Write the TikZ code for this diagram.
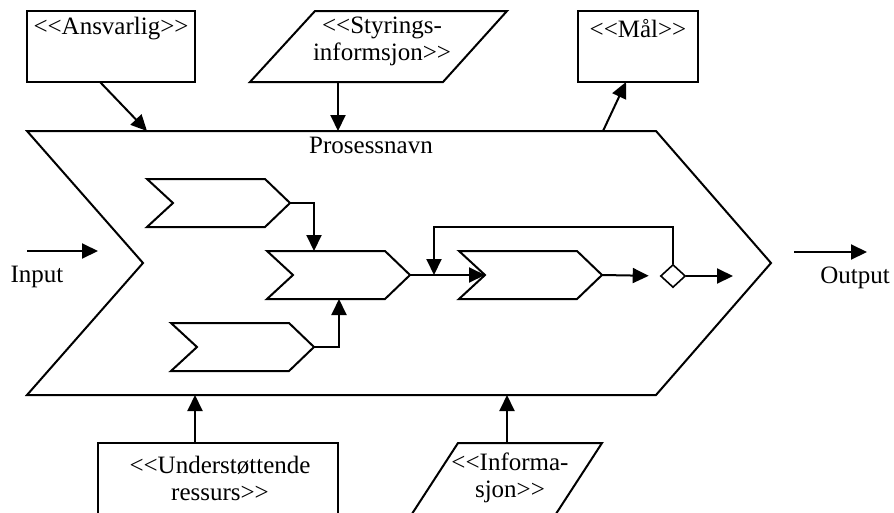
\documentclass[tikz,border=0pt]{standalone}
\usepackage{fontspec}
\setmainfont{Liberation Serif}[Ligatures=TeXOff]
\usetikzlibrary{arrows.meta,shapes.geometric}
\newcommand\myopen{<<}
\newcommand\myclose{>>}
\begin{document}
\begin{tikzpicture}[x=1pt,y=-1pt,line width=2pt,
  conn/.style={-{Triangle[length=16pt,width=15pt]}},
  lbl/.style={font=\fontsize{25}{27}\selectfont,inner sep=0pt,align=center},
  boxnode/.style={draw,rectangle,inner sep=0pt},
  chev/.pic={
    \draw (0,-24) -- (118,-24) -- (143,0) -- (118,24) -- (0,24) -- (26,0) -- cycle;
    \coordinate (-tip) at (143,0);
    \coordinate (-notch) at (26,0);
  }]
\useasboundingbox (0,0) rectangle (894,512);

% main process chevron
\draw (27,131) -- (656,131) -- (771,263) -- (656,395) -- (27,395) -- (143,263) -- cycle;
\node[lbl] (pname) at (371,145) {Prosessnavn};

% top: Ansvarlig
\node[boxnode,minimum width=168pt,minimum height=71pt] (ans) at (111,46.5) {};
\node[lbl] (anst) at (111,29) {\myopen Ansvarlig\myclose};
\coordinate (ansfrom) at (100,82);
\coordinate (ansin) at (147,131);
\draw[conn] (ansfrom) -- (ansin);

% top: Styringsinformasjon
\draw (250,82) -- (315,11) -- (507,11) -- (443,82) -- cycle;
\node[lbl] (styt) at (382,41.5) {\myopen Styrings-\\informsjon\myclose};
\coordinate (styfrom) at (338,82);
\coordinate (styin) at (338,131);
\draw[conn] (styfrom) -- (styin);

% top: Maal
\node[boxnode,minimum width=120pt,minimum height=71pt] (mal) at (638,46.5) {};
\node[lbl] (malt) at (638,29) {\myopen Mål\myclose};
\coordinate (malfrom) at (603,131);
\coordinate (malto) at (626,82);
\draw[conn] (malfrom) -- (malto);

% bottom: Understottende ressurs
\node[boxnode,minimum width=240pt,minimum height=120pt] (und) at (218,503) {};
\node[lbl] (undt) at (220,478.5) {\myopen Understøttende\\ressurs\myclose};
\coordinate (undfrom) at (195,443);
\coordinate (undin) at (195,395);
\draw[conn] (undfrom) -- (undin);

% bottom: Informasjon
\draw (458,443) -- (602,443) -- (539,540) -- (395,540) -- cycle;
\node[lbl] (inft) at (510,478) {\myopen Informa-\\sjon\myclose};
\coordinate (inffrom) at (507,443);
\coordinate (infin) at (507,395);
\draw[conn] (inffrom) -- (infin);

% input / output
\coordinate (inpa) at (27,251);
\coordinate (inpb) at (98,251);
\draw[conn] (inpa) -- (inpb);
\node[lbl] (inp) at (37,277) {Input};
\coordinate (outa) at (794,252);
\coordinate (outb) at (867,252);
\draw[conn] (outa) -- (outb);
\node[lbl] (outp) at (855,278) {Output};

% sub-processes
\pic (c1) at (147,203) {chev};
\pic (c2) at (267,275) {chev};
\pic (c3) at (171,347) {chev};
\pic (c4) at (459,275) {chev};
\node[draw,diamond,line width=1.6pt,minimum width=25pt,minimum height=23pt,inner sep=0pt] (dia) at (673,276) {};

\coordinate (c2in1) at (314,251);
\coordinate (c2in2) at (339,299);
\draw[conn] (c1-tip) -| (c2in1);
\draw[conn] (c3-tip) -| (c2in2);
\draw[conn] (c2-tip) -- (c4-notch);
\coordinate (fbc) at (434,227);
\coordinate (fbin) at (434,275);
\draw[conn] (dia.north) |- (fbc) -- (fbin);
\draw[conn,shorten >=11pt] (c4-tip) -- (dia.west);
\coordinate (diaout) at (733,276);
\draw[conn] (dia.east) -- (diaout);
\end{tikzpicture}
\end{document}
